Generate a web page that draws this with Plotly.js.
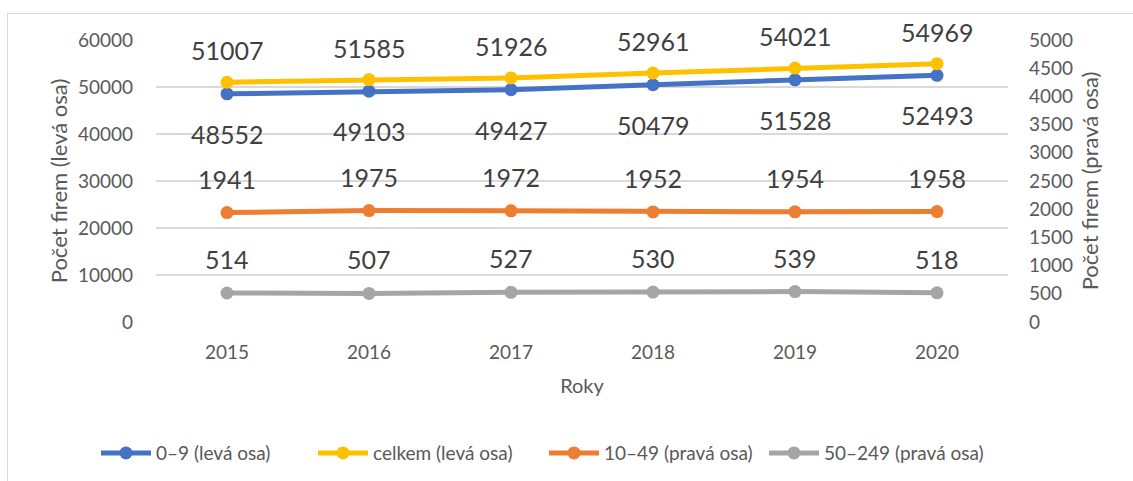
<!DOCTYPE html>
<html><head><meta charset="utf-8">
<script src="https://cdn.plot.ly/plotly-3.0.1.min.js"></script>
<style>body{margin:0;background:#fff}#wrap{position:relative;width:1133px;height:481px;overflow:hidden}
#frame{position:absolute;left:7px;top:13px;width:1200px;height:600px;border:1px solid #D9D9D9;pointer-events:none}</style>
</head><body><div id="wrap"><div id="chart" style="width:1133px;height:481px"></div><div id="frame"></div></div>
<script>
const years = ['2015','2016','2017','2018','2019','2020'];
const s0_9 = [48552, 49103, 49427, 50479, 51528, 52493];
const sTotal = [51007, 51585, 51926, 52961, 54021, 54969];
const s10_49 = [1941, 1975, 1972, 1952, 1954, 1958];
const s50_249 = [514, 507, 527, 530, 539, 518];
const names = ['0–9 (levá osa)', 'celkem (levá osa)', '10–49 (pravá osa)', '50–249 (pravá osa)'];
const colors = ['#4472C4', '#FFC000', '#ED7D31', '#A5A5A5'];

const F = 'Lato, "Open Sans", sans-serif';
const legendIds = ['legend', 'legend2', 'legend3', 'legend4'];
const legendX = [96, 313, 544, 764];
function tr(y, i, ax){
  return {x: years, y: y, name: names[i], yaxis: ax, type:'scatter', mode:'lines+markers',
    legend: legendIds[i],
    line:{color:colors[i], width:5}, marker:{color:colors[i], size:13}};
}
const traces = [tr(s0_9,0,'y'), tr(sTotal,1,'y'), tr(s10_49,2,'y2'), tr(s50_249,3,'y2')];

const ann = [];
function addLabels(vals, yref, shift){
  vals.forEach((v,k)=>ann.push({x:k, y:v, xref:'x', yref:yref, text:String(v), showarrow:false,
    yshift:shift, font:{family:F, size:25, color:'#404040'}}));
}
addLabels(s0_9,'y',-40);
addLabels(sTotal,'y',32);
addLabels(s10_49,'y2',34);
addLabels(s50_249,'y2',34);

const layout = {
  width:1133, height:481,
  margin:{l:156, r:125, t:40, b:159},
  paper_bgcolor:'#fff', plot_bgcolor:'#fff',
  font:{family:F, color:'#595959'},
  showlegend:true,
  xaxis:{type:'category', range:[-0.5,5.5], showgrid:false, zeroline:false, showline:false,
    ticks:'', tickfont:{family:F, size:19, color:'#595959'}, ticklabelstandoff:17,
    title:{text:'Roky', font:{family:F, size:20, color:'#595959'}, standoff:16}},
  yaxis:{range:[0,60000], dtick:10000, showgrid:true, gridcolor:'#D9D9D9', gridwidth:1.5, zeroline:false,
    showline:false, ticks:'', tickformat:'d', tickfont:{family:F, size:19, color:'#595959'}, ticklabelstandoff:22,
    title:{text:'Počet firem (levá osa)', font:{family:F, size:22, color:'#595959'}, standoff:4}},
  yaxis2:{overlaying:'y', side:'right', range:[0,5000], dtick:500, showgrid:false, zeroline:false,
    showline:false, ticks:'', tickformat:'d', tickfont:{family:F, size:19, color:'#595959'}, ticklabelstandoff:20,
    title:{text:'Počet firem (pravá osa)', font:{family:F, size:22, color:'#595959'}, standoff:10}},
  annotations: ann
};
legendIds.forEach((id, i) => {
  layout[id] = {orientation:'h', xref:'container', yref:'container', x: legendX[i]/1133, xanchor:'left',
    y: 0.058, yanchor:'middle', font:{family:F, size:19, color:'#595959'}, itemwidth:50,
    bgcolor:'rgba(0,0,0,0)'};
});
Plotly.newPlot('chart', traces, layout, {displayModeBar:false, staticPlot:true});
</script></body></html>
